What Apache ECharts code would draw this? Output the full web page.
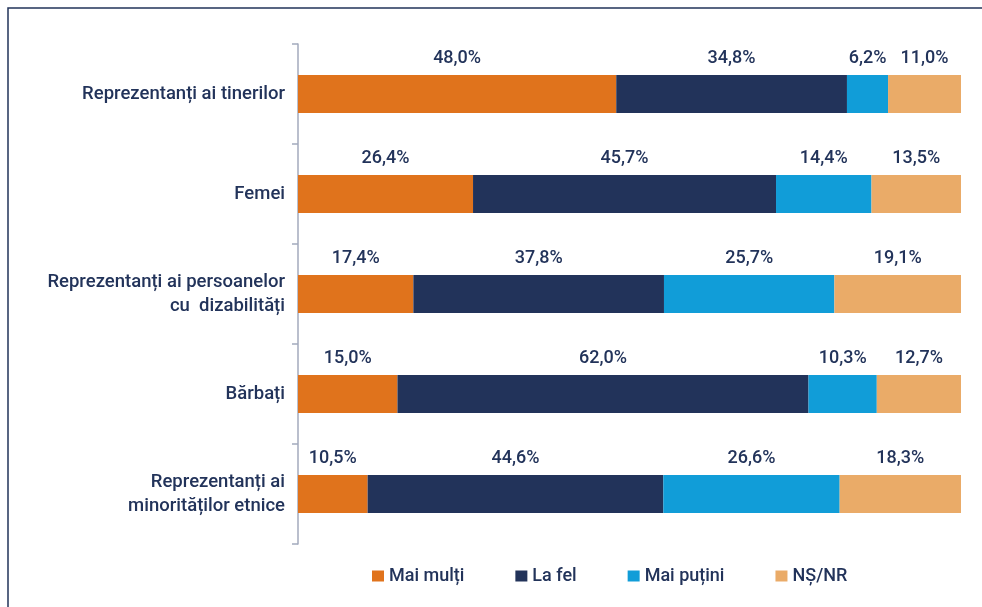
<!DOCTYPE html>
<html>
<head>
<meta charset="utf-8">
<script src="https://cdn.jsdelivr.net/npm/echarts@6/dist/echarts.min.js"></script>
<style>
  html, body { margin: 0; padding: 0; background: #fff; }
  #main { width: 982px; height: 607px; }
</style>
</head>
<body>
<div id="main"></div>
<script>
// categorii (de sus în jos)
var categories = [
  'Reprezentanți ai tinerilor',
  'Femei',
  'Reprezentanți ai persoanelor\ncu  dizabilități',
  'Bărbați',
  'Reprezentanți ai\nminorităților etnice'
];
var seriesNames = ['Mai mulți', 'La fel', 'Mai puțini', 'NȘ/NR'];
var maiMulti  = [48.0, 26.4, 17.4, 15.0, 10.5];
var laFel     = [34.8, 45.7, 37.8, 62.0, 44.6];
var maiPutini = [6.2, 14.4, 25.7, 10.3, 26.6];
var nsNr      = [11.0, 13.5, 19.1, 12.7, 18.3];

var colors = ['#e0731c', '#22335a', '#119dd8', '#eaab68'];
var textColor = '#22335a';
var font = 'Roboto';

var myChart = echarts.init(document.getElementById('main'));

var data = [maiMulti, laFel, maiPutini, nsNr];
var series = data.map(function (vals, i) {
  return {
    name: seriesNames[i],
    type: 'bar',
    stack: 'total',
    data: vals,
    barWidth: 38,
    itemStyle: { color: colors[i] },
    label: {
      show: true,
      position: 'top',
      distance: 8,
      color: textColor,
      fontFamily: font,
      fontSize: 18,
      fontWeight: 500,
      formatter: function (p) {
        return p.value.toFixed(1).replace('.', ',') + '%';
      }
    }
  };
});

myChart.setOption({
  animation: false,
  textStyle: { fontFamily: font },
  graphic: [{
    type: 'rect',
    shape: { x: 8, y: 8, width: 1200, height: 1200 },
    style: { fill: 'none', stroke: '#22335a', lineWidth: 1.5 },
    silent: true
  }],
  grid: {
    left: 298,
    right: 21,
    top: 44,
    bottom: 63
  },
  legend: {
    top: 567,
    left: 372,
    padding: 0,
    itemWidth: 12,
    itemHeight: 11,
    itemGap: 51,
    icon: 'rect',
    textStyle: {
      color: textColor,
      fontSize: 18,
      fontWeight: 500,
      fontFamily: font
    },
    data: seriesNames
  },
  xAxis: {
    type: 'value',
    min: 0,
    max: 100,
    show: false
  },
  yAxis: {
    type: 'category',
    inverse: true,
    data: categories,
    axisLine: { show: true, lineStyle: { color: '#a3aabd', width: 1.5 } },
    axisTick: { show: true, length: 6, lineStyle: { color: '#a3aabd', width: 1.5 } },
    axisLabel: {
      margin: 13,
      color: textColor,
      fontSize: 18.5,
      fontWeight: 500,
      fontFamily: font,
      lineHeight: 24,
      align: 'right'
    }
  },
  series: series
});
</script>
</body>
</html>
